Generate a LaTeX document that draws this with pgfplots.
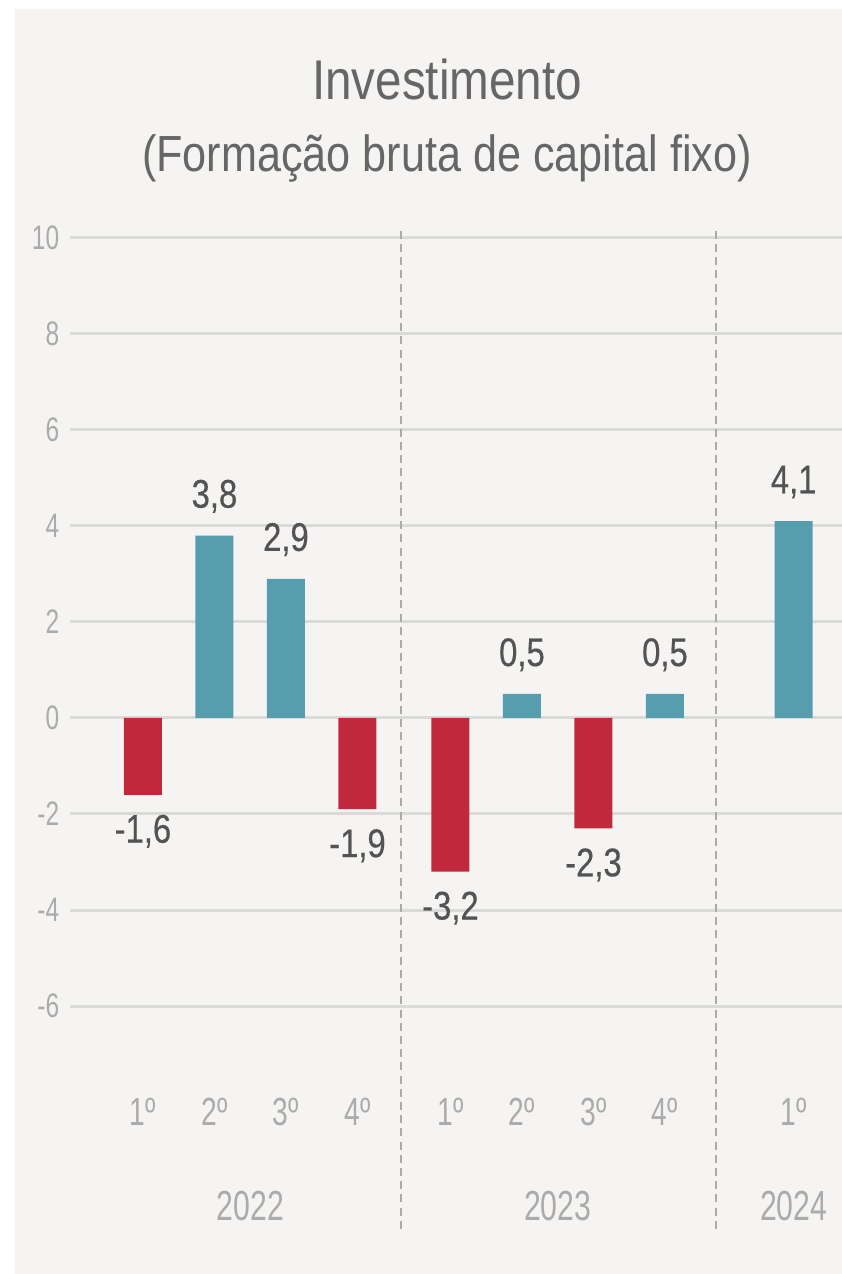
\documentclass[border=0pt]{standalone}
\usepackage{fontspec}
\setmainfont[FakeStretch=0.85]{Liberation Sans}
\newfontfamily\narrowfont[FakeStretch=0.72]{Liberation Sans}
\newfontfamily\valfont[FakeStretch=0.82,FakeBold=0.4]{Liberation Sans}
\usepackage{pgfplots}
\pgfplotsset{compat=1.18}
\definecolor{panel}{HTML}{F5F4F2}
\definecolor{barup}{HTML}{569EAE}
\definecolor{bardown}{HTML}{C1283B}
\definecolor{gridgray}{HTML}{DADAD8}
\definecolor{labelgray}{HTML}{ABABAB}
\definecolor{valgray}{HTML}{535353}
\definecolor{titlegray}{HTML}{666666}
\begin{document}
\begin{tikzpicture}[x=0.25pt,y=0.25pt]
\fill[white] (0,0) rectangle (842,1274);
\fill[panel] (15,0) rectangle (842,1265);
\node[anchor=base,text=titlegray,font=\fontsize{14}{16}\selectfont] at (447,1174) {Investimento};
\node[anchor=base,text=titlegray,font=\fontsize{12.7}{15}\selectfont] at (447,1102) {(Formação bruta de capital fixo)};
\begin{axis}[
  at={(17.5pt,55pt)}, anchor=south west,
  scale only axis, width=193pt, height=204pt,
  xmin=-1.02, xmax=9.776, ymin=-7, ymax=10,
  ytick={-6,-4,...,10},
  xtick={0,1,2,3,4.3,5.3,6.3,7.3,9.1},
  xticklabels={1º,2º,3º,4º,1º,2º,3º,4º,1º},
  axis x line*=bottom, axis y line*=left,
  axis line style={draw=none},
  major tick length=0pt,
  ymajorgrids, grid style={gridgray,line width=0.75pt},
  ticklabel style={text=labelgray},
  yticklabel style={font=\narrowfont\fontsize{8.5}{10}\selectfont,anchor=east,inner sep=0pt,xshift=-2.5pt},
  xticklabel style={font=\narrowfont\fontsize{9.8}{11}\selectfont,anchor=base,inner sep=0pt,yshift=-17.75pt},
  /pgf/number format/assume math mode=true,
  ybar, bar width=9.5pt,
  clip=false,
  point meta=y,
  nodes near coords={\pgfmathprintnumber[use comma,fixed,fixed zerofill,precision=1,assume math mode=true]{\pgfplotspointmeta}},
  nodes near coords style={text=valgray,inner sep=0pt,font=\valfont\fontsize{10}{12}\selectfont},
]
\addplot[fill=barup,draw=none,bar shift=0pt,
  every node near coord/.append style={yshift=5.5pt}]
  coordinates {(1,3.8) (2,2.9) (5.3,0.5) (7.3,0.5) (9.1,4.1)};
\addplot[fill=bardown,draw=none,bar shift=0pt,
  every node near coord/.append style={yshift=-4.8pt}]
  coordinates {(0,-1.6) (3,-1.9) (4.3,-3.2) (6.3,-2.3)};
\draw[labelgray,line width=0.6pt,dash pattern=on 2pt off 1.3pt] (axis cs:3.61,10.15) -- (axis cs:3.61,-10.67);
\draw[labelgray,line width=0.6pt,dash pattern=on 2pt off 1.3pt] (axis cs:8.01,10.15) -- (axis cs:8.01,-10.67);
\node[anchor=base,text=labelgray,font=\narrowfont\fontsize{10.5}{12}\selectfont] at (axis cs:1.5,-10.46) {2022};
\node[anchor=base,text=labelgray,font=\narrowfont\fontsize{10.5}{12}\selectfont] at (axis cs:5.8,-10.46) {2023};
\node[anchor=base,text=labelgray,font=\narrowfont\fontsize{10.5}{12}\selectfont] at (axis cs:9.1,-10.46) {2024};
\end{axis}
\pgfresetboundingbox
\path[use as bounding box] (0,0) rectangle (842,1274);
\end{tikzpicture}
\end{document}
